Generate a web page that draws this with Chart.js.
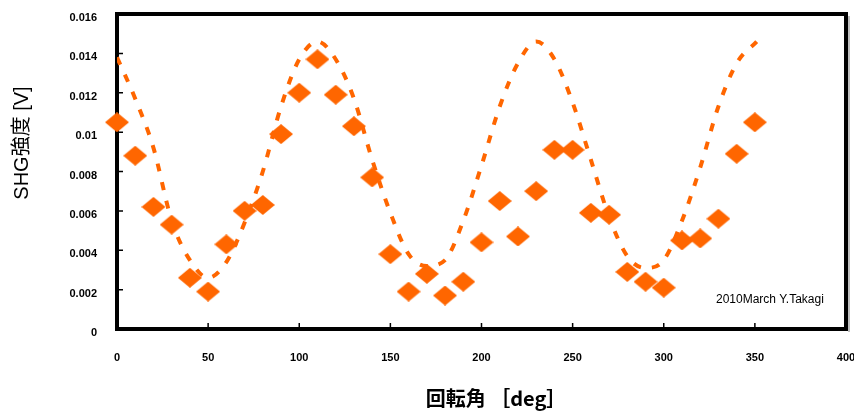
<!DOCTYPE html>
<html>
<head>
<meta charset="utf-8">
<script src="https://cdn.jsdelivr.net/npm/chart.js"></script>
<style>
  html, body { margin: 0; padding: 0; background: #fff; overflow: hidden; }
  /* a few px wider than the window: the "400" label overhangs the right edge */
  #wrap { width: 859px; height: 414px; }
</style>
</head>
<body>
<div id="wrap"><canvas id="c"></canvas></div>
<script>
// measured SHG intensity (diamonds)
const angles = [0, 10, 20, 30, 40, 50, 60, 70, 80, 90, 100, 110, 120, 130, 140, 150, 160, 170,
  180, 190, 200, 210, 220, 230, 240, 250, 260, 270, 280, 290, 300, 310, 320, 330, 340, 350];
const shgValues = [0.0105, 0.0088, 0.0062, 0.0053, 0.0026, 0.0019, 0.0043, 0.0060, 0.0063, 0.0099,
  0.0120, 0.0137, 0.0119, 0.0103, 0.0077, 0.0038, 0.0019, 0.0028, 0.0017, 0.0024, 0.0044, 0.0065,
  0.0047, 0.0070, 0.0091, 0.0091, 0.0059, 0.0058, 0.0029, 0.0024, 0.0021, 0.0045, 0.0046, 0.0056,
  0.0089, 0.0105];

// dotted curve
const curveAngles = [0, 10, 20, 30, 40, 50, 60, 70, 80, 90, 100, 110, 120, 130, 140, 150, 160, 170,
  180, 190, 200, 210, 220, 230, 240, 250, 260, 270, 280, 290, 300, 310, 320, 330, 340, 351];
const curveValues = [0.0138, 0.0117, 0.0092, 0.0055, 0.0035, 0.0026, 0.0034, 0.0054, 0.0080, 0.0113,
  0.0137, 0.0146, 0.0137, 0.0117, 0.0086, 0.0059, 0.0038, 0.0032, 0.0035, 0.0055, 0.0083, 0.0113,
  0.0135, 0.0146, 0.0137, 0.0115, 0.0086, 0.0057, 0.0037, 0.0031, 0.0035, 0.0055, 0.0082, 0.0113,
  0.0135, 0.0146];

const xTicks = [0, 50, 100, 150, 200, 250, 300, 350, 400];
const yTicks = [0, 0.002, 0.004, 0.006, 0.008, 0.01, 0.012, 0.014, 0.016];

const ORANGE = "#ff6600";

// diamond marker, a bit wider than tall
const diamond = document.createElement("canvas");
diamond.width = 24;
diamond.height = 20;
const dctx = diamond.getContext("2d");
dctx.fillStyle = ORANGE;
dctx.beginPath();
dctx.moveTo(12, 0);
dctx.lineTo(24, 10);
dctx.lineTo(12, 20);
dctx.lineTo(0, 10);
dctx.closePath();
dctx.fill();

const tickFont = { family: "'Liberation Sans', Arial, sans-serif", size: 11, weight: "bold" };

// frame, inward ticks, titles and the note
const framePlugin = {
  id: "frame",
  beforeDatasetsDraw(chart) {
    const { ctx, chartArea: a, scales } = chart;
    ctx.save();
    ctx.strokeStyle = "#000";
    ctx.lineWidth = 4;
    ctx.strokeRect(a.left, a.top, a.right - a.left, a.bottom - a.top);
    ctx.strokeStyle = "#aaa";
    ctx.lineWidth = 1.5;
    ctx.beginPath();
    ctx.moveTo(a.right + 3, a.top + 2);
    ctx.lineTo(a.right + 3, a.bottom + 3);
    ctx.stroke();

    ctx.strokeStyle = "#000";
    ctx.lineWidth = 1.5;
    ctx.beginPath();
    xTicks.forEach(v => {
      const px = scales.x.getPixelForValue(v);
      ctx.moveTo(px, a.bottom);
      ctx.lineTo(px, a.bottom - 6);
    });
    yTicks.forEach(v => {
      const py = scales.y.getPixelForValue(v);
      ctx.moveTo(a.left, py);
      ctx.lineTo(a.left + 6, py);
    });
    ctx.stroke();
    ctx.restore();
  },
  afterDraw(chart) {
    const { ctx } = chart;
    ctx.save();
    ctx.fillStyle = "#000";
    ctx.textBaseline = "middle";

    ctx.textAlign = "center";
    ctx.font = "bold 20px 'Noto Sans CJK JP', sans-serif";
    ctx.fillText("回転角 ［deg］", 496, 398);

    ctx.save();
    ctx.translate(22, 143);
    ctx.rotate(-Math.PI / 2);
    ctx.font = "20px 'Liberation Sans', 'Noto Sans CJK JP', sans-serif";
    ctx.fillText("SHG強度 [V]", 0, 0);
    ctx.restore();

    ctx.textAlign = "left";
    ctx.font = "12px 'Liberation Sans', Arial, sans-serif";
    ctx.fillText("2010March Y.Takagi", 716, 300);
    ctx.restore();
  }
};

new Chart(document.getElementById("c"), {
  type: "scatter",
  data: {
    datasets: [
      {
        label: "SHG",
        data: angles.map((a, i) => ({ x: a, y: shgValues[i] })),
        pointStyle: diamond,
        pointRadius: 12,
        clip: false
      },
      {
        label: "fit",
        data: curveAngles.map((a, i) => ({ x: a, y: curveValues[i] })),
        showLine: true,
        pointRadius: 0,
        borderColor: ORANGE,
        borderWidth: 4,
        borderDash: [8, 11],
        borderCapStyle: "butt",
        cubicInterpolationMode: "monotone",
        fill: false
      }
    ]
  },
  options: {
    responsive: true,
    maintainAspectRatio: false,
    animation: false,
    devicePixelRatio: 1,
    layout: { padding: { left: 0, right: 4, top: 14, bottom: 0 } },
    plugins: { legend: { display: false }, tooltip: { enabled: false } },
    scales: {
      x: {
        type: "linear",
        min: 0,
        max: 400,
        afterBuildTicks: s => { s.ticks = xTicks.map(v => ({ value: v })); },
        afterFit: s => { s.height = 85; s.paddingLeft = 0; s.paddingRight = 0; },
        grid: { display: false, drawTicks: false },
        border: { display: false },
        ticks: { font: tickFont, color: "#000", padding: 22, maxRotation: 0, autoSkip: false }
      },
      y: {
        type: "linear",
        min: 0,
        max: 0.016,
        afterBuildTicks: s => { s.ticks = yTicks.map(v => ({ value: v })); },
        afterFit: s => { s.width = 117; s.paddingTop = 0; s.paddingBottom = 0; },
        grid: { display: false, drawTicks: false },
        border: { display: false },
        ticks: {
          font: tickFont,
          color: "#000",
          padding: 20,
          labelOffset: 4,
          autoSkip: false,
          callback: v => String(+v.toFixed(3))
        }
      }
    }
  },
  plugins: [framePlugin]
});
</script>
</body>
</html>
